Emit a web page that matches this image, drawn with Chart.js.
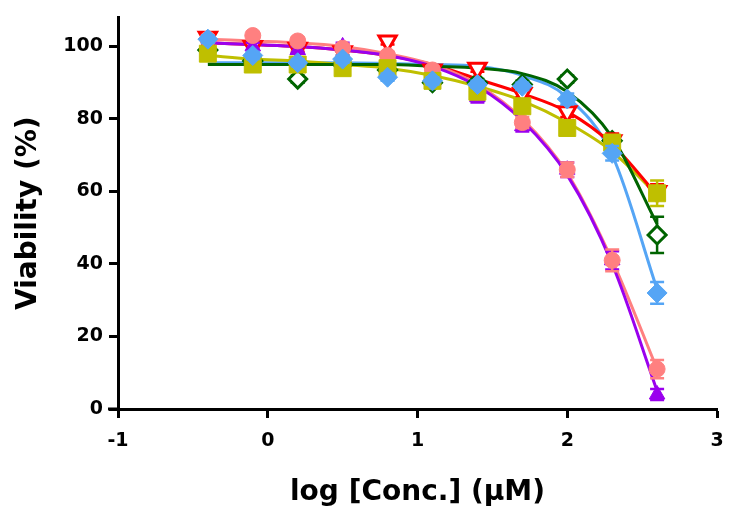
<!DOCTYPE html>
<html>
<head>
<meta charset="utf-8">
<script src="https://cdn.jsdelivr.net/npm/chart.js@4.4.1/dist/chart.umd.min.js"></script>
<style>
	html, body { margin: 0; padding: 0; background: #fff; }
	#wrap { width: 730px; height: 510px; }
</style>
</head>
<body>
<div id="wrap"><canvas id="viabilidade"></canvas></div>
<script>
// log concentrations (uM)
var doses = [-0.4, -0.1, 0.2, 0.5, 0.8, 1.1, 1.4, 1.7, 2.0, 2.3, 2.6];
var xTicks = [-1, 0, 1, 2, 3];
var yTicks = [0, 20, 40, 60, 80, 100];

// mean viability per compound
var redMean = [102.5, 100, 99.5, 98.5, 101.5, 93.5, 94, 87, 82, 74, 60];
var greenMean = [99, 96, 91, 95, 93.5, 90, 90, 89.5, 91, 74, 48];
var purpleMean = [101, 100, 99, 100, 97, 93, 86, 78, 66, 41, 4];
var pinkMean = [102, 103, 101.5, 99.5, 97.5, 93.5, 87.5, 79, 66, 41, 11];
var oliveMean = [98, 95, 95, 94, 94, 90.5, 87.5, 83.5, 77.5, 73.5, 59.5];
var blueMean = [102, 97.5, 95.5, 96.5, 91.5, 90.5, 89.5, 89, 85.5, 70.5, 32];

// error (SD)
var redErr = [1, 1, 1, 1, 1, 1, 1, 1, 1.5, 2, 2];
var greenErr = [1, 1, 1, 1, 1, 1, 1, 1, 1, 1.5, 5];
var purpleErr = [1, 1, 1, 1, 1, 1, 1.5, 1.5, 2, 2.5, 1.5];
var pinkErr = [1, 1, 1, 1, 1, 1, 1.5, 1.5, 2, 3, 2.5];
var oliveErr = [1, 1, 1, 1, 1, 1, 1, 1, 1.5, 2, 3.5];
var blueErr = [1, 1, 1, 1, 1, 1, 1, 1, 1.5, 2, 3];

// fitted curves
var redFit = [101, 100.5, 100, 99, 97.5, 95, 91, 87, 82, 73, 59];
var greenFit = [95, 95, 95, 95, 95, 94.5, 94, 92.5, 87.5, 75, 51];
var purpleFit = [101, 100.5, 100, 99, 97.5, 94.5, 89, 79.5, 64.5, 40, 5];
var pinkFit = [102, 101.5, 101, 100, 98, 95, 89.5, 80, 65, 41, 11];
var oliveFit = [97.5, 96.5, 96, 95, 94, 92, 89, 85, 79, 71, 59];
var blueFit = [95.5, 95.5, 95.5, 95.5, 95.3, 95, 94.5, 92, 86, 70, 33];

function pares(ys) {
	var out = [];
	for (var i = 0; i < doses.length; i++) {
		out.push({ x: doses[i], y: ys[i] });
	}
	return out;
}

function curva(ys, cor) {
	return {
		type: "line",
		data: pares(ys),
		borderColor: cor,
		borderWidth: 3,
		pointRadius: 0,
		fill: false,
		cubicInterpolationMode: "monotone",
		order: 10
	};
}

function pontos(ys, err, cor, estilo, raio, ordem, extra) {
	var ds = {
		type: "scatter",
		data: pares(ys),
		erros: err,
		corErro: cor,
		backgroundColor: cor,
		borderColor: cor,
		borderWidth: 1,
		pointStyle: estilo,
		pointRadius: raio,
		pointHoverRadius: raio,
		order: ordem
	};
	if (extra) {
		for (var k in extra) ds[k] = extra[k];
	}
	return ds;
}

// vertical error bars with caps, drawn under each point set
var barrasErro = {
	id: "barrasErro",
	beforeDatasetDraw: function (chart, args) {
		var ds = chart.data.datasets[args.index];
		if (!ds.erros) return;
		var ctx = chart.ctx;
		var xs = chart.scales.x;
		var ys = chart.scales.y;
		ctx.save();
		ctx.strokeStyle = ds.corErro;
		ctx.lineWidth = 2.5;
		for (var i = 0; i < ds.data.length; i++) {
			var px = xs.getPixelForValue(ds.data[i].x);
			var top = ys.getPixelForValue(ds.data[i].y + ds.erros[i]);
			var bot = ys.getPixelForValue(ds.data[i].y - ds.erros[i]);
			ctx.beginPath();
			ctx.moveTo(px, top);
			ctx.lineTo(px, bot);
			ctx.moveTo(px - 7, top);
			ctx.lineTo(px + 7, top);
			ctx.moveTo(px - 7, bot);
			ctx.lineTo(px + 7, bot);
			ctx.stroke();
		}
		ctx.restore();
	}
};

// x axis line runs a little past the y axis on the left
var eixoX = {
	id: "eixoX",
	afterDraw: function (chart) {
		var a = chart.chartArea;
		var ctx = chart.ctx;
		ctx.save();
		ctx.strokeStyle = "#000";
		ctx.lineWidth = 3;
		ctx.beginPath();
		ctx.moveTo(a.left - 10, a.bottom);
		ctx.lineTo(a.left, a.bottom);
		ctx.stroke();
		ctx.restore();
	}
};

var fonte = "'DejaVu Sans', Arial, sans-serif";

var ctx = document.getElementById("viabilidade");

var chart = new Chart(ctx, {
	data: {
		datasets: [
			curva(greenFit, "#006400"),
			curva(purpleFit, "#9A00EE"),
			curva(pinkFit, "#FF8080"),
			curva(redFit, "#FF0000"),
			curva(oliveFit, "#BFBF00"),
			curva(blueFit, "#55A5F5"),
			pontos(greenMean, greenErr, "#006400", "rectRot", 9, 7, { backgroundColor: "#ffffff", borderWidth: 3 }),
			pontos(redMean, redErr, "#FF0000", "triangle", 10, 6, { backgroundColor: "#ffffff", borderWidth: 3, rotation: 180 }),
			pontos(purpleMean, purpleErr, "#9A00EE", "triangle", 9, 5),
			pontos(pinkMean, pinkErr, "#FF8080", "circle", 8, 4),
			pontos(oliveMean, oliveErr, "#BFBF00", "rect", 12, 2),
			pontos(blueMean, blueErr, "#55A5F5", "rectRot", 10, 1)
		]
	},
	options: {
		responsive: true,
		maintainAspectRatio: false,
		animation: false,
		layout: { padding: { top: 17, right: 9, bottom: 0, left: 0 } },
		plugins: {
			legend: { display: false },
			tooltip: { enabled: false }
		},
		scales: {
			x: {
				type: "linear",
				min: -1,
				max: 3,
				afterFit: function (s) {
					s.height = 101;
					s.paddingLeft = 0;
					s.paddingRight = 0;
				},
				afterBuildTicks: function (s) {
					s.ticks = xTicks.map(function (v) { return { value: v }; });
				},
				border: { color: "#000", width: 3 },
				grid: { drawOnChartArea: false, drawTicks: true, tickLength: 9, tickColor: "#000", tickWidth: 3 },
				ticks: { color: "#000", padding: 12, font: { family: fonte, size: 19, weight: "bold" } },
				title: {
					display: true,
					text: "log [Conc.] (µM)",
					color: "#000",
					padding: { top: 0, bottom: 0 },
					font: { family: fonte, size: 28, weight: "bold" }
				}
			},
			y: {
				type: "linear",
				min: 0,
				max: 108,
				afterFit: function (s) { s.width = 118; },
				afterBuildTicks: function (s) {
					s.ticks = yTicks.map(function (v) { return { value: v }; });
				},
				border: { color: "#000", width: 3 },
				grid: { drawOnChartArea: false, drawTicks: true, tickLength: 9, tickColor: "#000", tickWidth: 3 },
				ticks: { color: "#000", padding: 6, font: { family: fonte, size: 19, weight: "bold" } },
				title: {
					display: true,
					text: "Viability (%)",
					color: "#000",
					padding: { top: 12, bottom: 0 },
					font: { family: fonte, size: 28, weight: "bold" }
				}
			}
		}
	},
	plugins: [barrasErro, eixoX]
});
</script>
</body>
</html>
